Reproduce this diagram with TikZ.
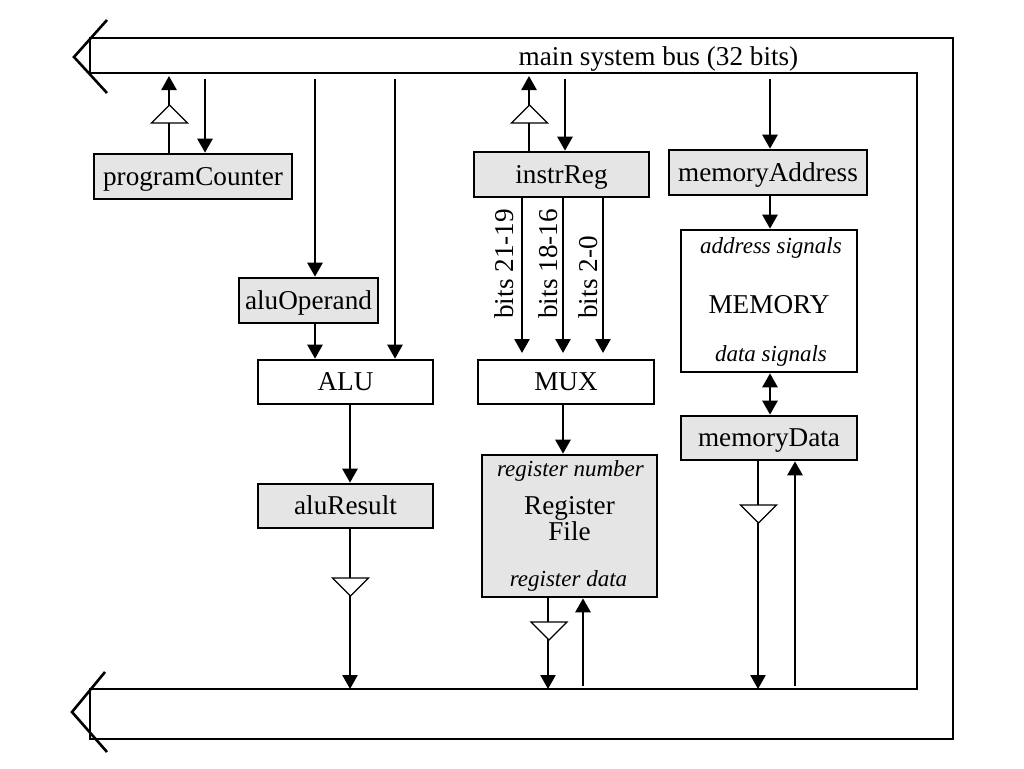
\documentclass[tikz,border=0pt]{standalone}
\usepackage{fontspec}
\setmainfont{Liberation Serif}
\usetikzlibrary{arrows.meta,shapes.geometric}

\begin{document}
\begin{tikzpicture}[x=1pt,y=-1pt,line width=2.6pt,line join=miter,>={Triangle[length=14pt,width=15pt]},
	main node/.style={rectangle,draw,inner sep=0pt,align=center,text height=18pt,text depth=1pt,font=\fontsize{27.2}{30}\selectfont},
	reg node/.style={main node,fill=black!10},
	note node/.style={inner sep=0pt,font=\fontsize{23}{26}\itshape\selectfont},
	bits node/.style={inner sep=0pt,rotate=90,anchor=base west,font=\fontsize{27.2}{30}\selectfont},
	buf up/.style={isosceles triangle,isosceles triangle apex angle=90,shape border rotate=90,
		draw,fill=white,line width=1.2pt,inner sep=0pt,outer sep=0pt,minimum height=18pt,anchor=apex},
	buf down/.style={buf up,shape border rotate=-90}]
	\useasboundingbox (0,0) rectangle (1024,768);

	\node[reg node,minimum width=198pt,minimum height=45pt] (pc) at (193,176.5) {programCounter};
	\node[reg node,minimum width=139pt,minimum height=45pt] (aluOp) at (308.5,300.5) {aluOperand};
	\node[main node,minimum width=175pt,minimum height=44pt] (alu) at (345.5,382) {ALU};
	\node[reg node,minimum width=175pt,minimum height=44pt] (aluRes) at (345.5,506) {aluResult};
	\node[reg node,minimum width=175pt,minimum height=45pt] (ir) at (561.5,174.5) {instrReg};
	\node[main node,minimum width=176pt,minimum height=44pt] (mux) at (566,382) {MUX};
	\node[reg node,minimum width=175pt,minimum height=142pt] (regs) at (569.5,526) {};
	\node[reg node,minimum width=198pt,minimum height=45pt] (mar) at (768,172.5) {memoryAddress};
	\node[main node,minimum width=176pt,minimum height=142pt,text height=24pt,text depth=0pt] (mem) at (769,301) {MEMORY};
	\node[reg node,minimum width=176pt,minimum height=44pt] (mdr) at (769,438) {memoryData};

	\node[inner sep=0pt,align=center,font=\fontsize{27.2}{26}\selectfont] (regname) at (569.5,519) {Register\\File};
	\node[note node] (regnum) at (570.5,471) {register number};
	\node[note node] (regdat) at (568.5,581) {register data};
	\node[note node] (addr) at (771,248) {address signals};
	\node[note node] (dat) at (771,356) {data signals};
	\node[inner sep=0pt,font=\fontsize{27.2}{30}\selectfont] (buslabel) at (658.5,59) {main system bus (32 bits)};
	\node[bits node] (bitsa) at (513,320) {bits 21-19};
	\node[bits node] (bitsb) at (557,320) {bits 18-16};
	\node[bits node] (bitsc) at (597,320) {bits 2-0};

	% bus outline
	\draw (107,20) -- (74,57) -- (107,93);
	\draw (105,672) -- (72,712) -- (107,752);
	\draw (90,38) -- (953,38) -- (953,739) -- (90,739) -- (90,689) -- (917,689) -- (917,73) -- (90,73) -- cycle;

	% ends on the bus
	\coordinate (pcout) at (169,76);
	\coordinate (pcin) at (205,79);
	\coordinate (opin) at (315,79);
	\coordinate (aluin) at (395,79);
	\coordinate (irout) at (529,76);
	\coordinate (irin) at (565,79);
	\coordinate (marin) at (770,79);
	\coordinate (resout) at (350,689);
	\coordinate (regout) at (548,689);
	\coordinate (regin) at (583,686);
	\coordinate (mdrout) at (758,689);
	\coordinate (mdrin) at (795,686);
	\coordinate (bita) at (522,353);
	\coordinate (bitb) at (563,353);
	\coordinate (bitc) at (603,353);

	\draw[->] (pcout |- pc.north) -- (pcout);
	\draw[->] (pcin) -- (pcin |- pc.north);
	\draw[->] (opin) -- (opin |- aluOp.north);
	\draw[->] (aluin) -- (aluin |- alu.north);
	\draw[->] (opin |- aluOp.south) -- (opin |- alu.north);
	\draw[->] (resout |- alu.south) -- (resout |- aluRes.north);
	\draw[->] (resout |- aluRes.south) -- (resout);
	\draw[->] (irout |- ir.north) -- (irout);
	\draw[->] (irin) -- (irin |- ir.north);
	\draw[->] (bita |- ir.south) -- (bita);
	\draw[->] (bitb |- ir.south) -- (bitb);
	\draw[->] (bitc |- ir.south) -- (bitc);
	\draw[->] (bitb |- mux.south) -- (bitb |- regs.north);
	\draw[->] (regout |- regs.south) -- (regout);
	\draw[->] (regin) -- (regin |- regs.south);
	\draw[->] (marin) -- (marin |- mar.north);
	\draw[->] (marin |- mar.south) -- (marin |- mem.north);
	\draw[<->] (marin |- mem.south) -- (marin |- mdr.north);
	\draw[->] (mdrout |- mdr.south) -- (mdrout);
	\draw[->] (mdrin) -- (mdrin |- mdr.south);

	% tristate buffers
	\node[buf up] (bufpc) at (169.5,105) {};
	\node[buf up] (bufir) at (529.5,105) {};
	\node[buf down] (bufres) at (350.5,596) {};
	\node[buf down] (bufreg) at (549,640) {};
	\node[buf down] (bufmdr) at (758.5,523) {};
\end{tikzpicture}
\end{document}
